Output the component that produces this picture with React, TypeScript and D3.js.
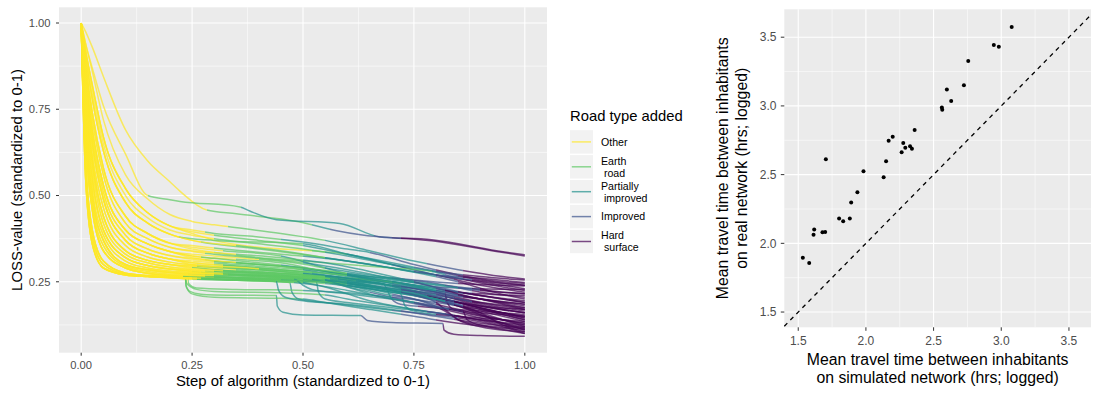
import React, { useRef, useEffect } from "react";
import * as d3 from "d3";

// Road types (legend order) and their viridis colours
const roadTypes = ["Other", "Earth road", "Partially improved", "Improved", "Hard surface"];
const roadLabels = [["Other"], ["Earth", " road"], ["Partially", " improved"], ["Improved"], ["Hard", " surface"]];
const roadColors = ["#FDE725", "#5DC863", "#21908C", "#3B528B", "#440154"];

// Left panel ticks
const stepTicks = [0, 0.25, 0.5, 0.75, 1];
const lossTicks = [0.25, 0.5, 0.75, 1];

// Early part of the LOSS curves: values read at these steps
const lossSteps = [0, 0.01, 0.025, 0.05, 0.1, 0.15, 0.2];
const lossFans = [
  [1, 0.55, 0.36, 0.29, 0.27, 0.265, 0.262],
  [1, 0.6, 0.4, 0.31, 0.275, 0.268, 0.264],
  [1, 0.66, 0.46, 0.34, 0.29, 0.275, 0.268],
  [1, 0.7, 0.5, 0.37, 0.3, 0.285, 0.277],
  [1, 0.74, 0.55, 0.4, 0.32, 0.297, 0.287],
  [1, 0.78, 0.6, 0.44, 0.34, 0.312, 0.3],
  [1, 0.82, 0.65, 0.49, 0.37, 0.333, 0.316],
  [1, 0.85, 0.69, 0.53, 0.4, 0.36, 0.338],
  [1, 0.88, 0.74, 0.58, 0.44, 0.39, 0.362],
  [1, 0.9, 0.78, 0.63, 0.48, 0.42, 0.388],
  [1, 0.92, 0.82, 0.67, 0.52, 0.45, 0.412],
  [1, 0.94, 0.86, 0.72, 0.56, 0.49, 0.445],
  [1, 0.975, 0.93, 0.845, 0.69, 0.6, 0.54],
  [1, 0.94, 0.87, 0.76, 0.62, 0.5, 0.488],
  [1, 0.58, 0.38, 0.3, 0.272, 0.266, 0.263],
  [1, 0.68, 0.48, 0.355, 0.295, 0.28, 0.272],
  [1, 0.72, 0.52, 0.385, 0.31, 0.29, 0.281],
  [1, 0.76, 0.58, 0.42, 0.33, 0.305, 0.293],
  [1, 0.8, 0.62, 0.465, 0.355, 0.322, 0.307],
  [1, 0.84, 0.67, 0.51, 0.385, 0.345, 0.326],
  [1, 0.87, 0.72, 0.56, 0.42, 0.375, 0.35],
  [1, 0.91, 0.8, 0.65, 0.5, 0.435, 0.4],
];

// Which early shape each curve follows
const curveFan = [
  12, 13, 11, 10, 10, 9, 9, 8, 8, 7, 7, 6, 6, 5, 5, 4, 4, 3, 3, 2, 0, 0, 1, 1, 2, 0, 1, 2, 3, 4, 5, 2, 1, 0, 3, 4, 6, 7, 8, 5, 9, 7, 10, 6,
  14, 15, 16, 17, 18, 19, 20, 21, 14, 15, 17, 19, 16, 18, 20, 14,
];

// Later part of each curve: [step, loss]
const curveTails = [
  [[0.225, 0.51], [0.283, 0.458], [0.35, 0.447], [0.49, 0.424], [0.576, 0.398], [0.63, 0.386], [0.79, 0.369], [0.936, 0.338], [1, 0.325]],
  [[0.223, 0.483], [0.358, 0.467], [0.38, 0.455], [0.44, 0.43], [0.583, 0.419], [0.673, 0.38], [0.79, 0.372], [0.936, 0.34], [1, 0.328]],
  [[0.25, 0.425], [0.3, 0.415], [0.33, 0.41], [0.45, 0.39], [0.55, 0.37], [0.65, 0.34], [0.75, 0.31], [0.85, 0.285], [0.95, 0.265], [1, 0.258]],
  [[0.25, 0.395], [0.3, 0.385], [0.4, 0.37], [0.5, 0.355], [0.6, 0.33], [0.7, 0.305], [0.8, 0.28], [0.9, 0.255], [1, 0.24]],
  [[0.25, 0.39], [0.3, 0.37], [0.4, 0.35], [0.52, 0.34], [0.6, 0.33], [0.7, 0.3], [0.8, 0.27], [0.9, 0.24], [1, 0.22]],
  [[0.25, 0.37], [0.27, 0.365], [0.4, 0.345], [0.55, 0.32], [0.7, 0.29], [0.85, 0.25], [0.93, 0.22], [1, 0.2]],
  [[0.22, 0.38], [0.3, 0.37], [0.5, 0.36], [0.6, 0.33], [0.7, 0.3], [0.8, 0.27], [0.9, 0.25], [1, 0.23]],
  [[0.25, 0.345], [0.3, 0.335], [0.4, 0.32], [0.5, 0.31], [0.6, 0.3], [0.7, 0.29], [0.79, 0.28], [0.85, 0.26], [0.95, 0.235], [1, 0.225]],
  [[0.25, 0.35], [0.32, 0.34], [0.45, 0.325], [0.55, 0.29], [0.65, 0.255], [0.75, 0.22], [0.85, 0.19], [0.95, 0.16], [1, 0.15]],
  [[0.25, 0.32], [0.3, 0.31], [0.4, 0.3], [0.5, 0.29], [0.6, 0.27], [0.7, 0.25], [0.8, 0.22], [0.9, 0.19], [1, 0.17]],
  [[0.25, 0.325], [0.35, 0.315], [0.45, 0.305], [0.55, 0.28], [0.65, 0.26], [0.75, 0.24], [0.85, 0.2], [0.95, 0.17], [1, 0.16]],
  [[0.25, 0.305], [0.3, 0.3], [0.4, 0.29], [0.5, 0.28], [0.6, 0.27], [0.7, 0.26], [0.8, 0.245], [0.9, 0.22], [1, 0.205]],
  [[0.25, 0.3], [0.35, 0.29], [0.45, 0.28], [0.55, 0.26], [0.65, 0.23], [0.75, 0.2], [0.85, 0.17], [0.95, 0.14], [1, 0.13]],
  [[0.25, 0.29], [0.3, 0.285], [0.4, 0.278], [0.5, 0.27], [0.6, 0.262], [0.7, 0.25], [0.8, 0.23], [0.9, 0.21], [1, 0.19]],
  [[0.25, 0.292], [0.35, 0.28], [0.45, 0.27], [0.55, 0.25], [0.65, 0.22], [0.75, 0.19], [0.85, 0.16], [0.95, 0.13], [1, 0.115]],
  [[0.25, 0.28], [0.3, 0.275], [0.4, 0.27], [0.5, 0.265], [0.6, 0.255], [0.7, 0.24], [0.8, 0.22], [0.9, 0.2], [1, 0.18]],
  [[0.25, 0.28], [0.3, 0.275], [0.4, 0.268], [0.5, 0.26], [0.6, 0.25], [0.68, 0.245], [0.7, 0.2], [0.72, 0.185], [0.8, 0.175], [0.9, 0.165], [1, 0.155]],
  [[0.25, 0.272], [0.35, 0.268], [0.45, 0.262], [0.55, 0.255], [0.65, 0.24], [0.75, 0.22], [0.85, 0.19], [0.95, 0.16], [1, 0.145]],
  [[0.25, 0.27], [0.3, 0.265], [0.5, 0.255], [0.6, 0.25], [0.7, 0.23], [0.8, 0.205], [0.9, 0.18], [1, 0.16]],
  [[0.25, 0.265], [0.35, 0.26], [0.5, 0.252], [0.6, 0.245], [0.7, 0.225], [0.8, 0.195], [0.9, 0.165], [1, 0.135]],
  [[0.235, 0.26], [0.236, 0.24], [0.245, 0.222], [0.27, 0.214], [0.3, 0.212], [0.44, 0.21], [0.442, 0.18], [0.455, 0.162], [0.5, 0.154], [0.63, 0.152], [0.645, 0.138], [0.7, 0.132], [0.815, 0.129], [0.818, 0.11], [0.84, 0.098], [0.9, 0.094], [1, 0.092]],
  [[0.235, 0.258], [0.237, 0.235], [0.25, 0.215], [0.3, 0.205], [0.45, 0.202], [0.5, 0.2], [0.55, 0.19], [0.65, 0.17], [0.75, 0.15], [0.85, 0.13], [0.95, 0.115], [1, 0.11]],
  [[0.235, 0.262], [0.238, 0.245], [0.26, 0.228], [0.3, 0.222], [0.45, 0.218], [0.55, 0.212], [0.6, 0.2], [0.7, 0.18], [0.8, 0.16], [0.9, 0.14], [1, 0.125]],
  [[0.25, 0.262], [0.3, 0.258], [0.4, 0.255], [0.5, 0.252], [0.53, 0.25], [0.535, 0.22], [0.55, 0.2], [0.6, 0.19], [0.7, 0.175], [0.8, 0.16], [0.9, 0.14], [1, 0.12]],
  [[0.25, 0.266], [0.35, 0.262], [0.45, 0.258], [0.55, 0.25], [0.6, 0.24], [0.7, 0.21], [0.75, 0.2], [0.82, 0.165], [0.85, 0.14], [0.9, 0.125], [1, 0.1]],
  [[0.25, 0.258], [0.35, 0.255], [0.45, 0.25], [0.47, 0.248], [0.475, 0.22], [0.49, 0.2], [0.55, 0.19], [0.65, 0.175], [0.75, 0.16], [0.85, 0.145], [0.95, 0.12], [1, 0.1]],
  [[0.25, 0.26], [0.4, 0.252], [0.55, 0.245], [0.65, 0.23], [0.75, 0.21], [0.85, 0.18], [0.9, 0.155], [0.95, 0.13], [1, 0.11]],
  [[0.25, 0.265], [0.4, 0.26], [0.5, 0.255], [0.6, 0.24], [0.7, 0.22], [0.72, 0.215], [0.73, 0.18], [0.75, 0.165], [0.85, 0.15], [0.95, 0.14], [1, 0.135]],
  [[0.25, 0.274], [0.35, 0.27], [0.45, 0.262], [0.55, 0.25], [0.62, 0.235], [0.7, 0.22], [0.8, 0.2], [0.9, 0.18], [1, 0.17]],
  [[0.25, 0.282], [0.4, 0.272], [0.5, 0.265], [0.6, 0.255], [0.7, 0.24], [0.8, 0.225], [0.9, 0.215], [1, 0.21]],
  [[0.25, 0.295], [0.35, 0.285], [0.45, 0.275], [0.55, 0.265], [0.65, 0.255], [0.72, 0.245], [0.8, 0.235], [0.9, 0.23], [1, 0.228]],
  [[0.23, 0.266], [0.3, 0.263], [0.45, 0.255], [0.6, 0.245], [0.65, 0.235], [0.75, 0.215], [0.85, 0.19], [0.95, 0.155], [1, 0.14]],
  [[0.24, 0.26], [0.242, 0.245], [0.26, 0.232], [0.35, 0.228], [0.5, 0.225], [0.6, 0.218], [0.7, 0.205], [0.8, 0.19], [0.9, 0.17], [1, 0.15]],
  [[0.25, 0.258], [0.3, 0.256], [0.45, 0.25], [0.5, 0.245], [0.6, 0.225], [0.7, 0.2], [0.8, 0.175], [0.86, 0.165], [0.87, 0.14], [0.9, 0.125], [1, 0.115]],
  [[0.25, 0.275], [0.4, 0.268], [0.55, 0.26], [0.7, 0.25], [0.75, 0.24], [0.85, 0.22], [0.95, 0.2], [1, 0.19]],
  [[0.25, 0.285], [0.3, 0.28], [0.4, 0.275], [0.5, 0.268], [0.6, 0.255], [0.7, 0.235], [0.8, 0.21], [0.9, 0.19], [1, 0.175]],
  [[0.25, 0.31], [0.35, 0.3], [0.45, 0.29], [0.55, 0.28], [0.65, 0.265], [0.75, 0.25], [0.85, 0.235], [0.95, 0.22], [1, 0.215]],
  [[0.25, 0.33], [0.3, 0.325], [0.4, 0.315], [0.48, 0.305], [0.55, 0.29], [0.65, 0.27], [0.75, 0.255], [0.85, 0.245], [0.95, 0.24], [1, 0.238]],
  [[0.25, 0.355], [0.32, 0.345], [0.45, 0.33], [0.6, 0.31], [0.7, 0.29], [0.8, 0.27], [0.9, 0.26], [1, 0.248]],
  [[0.25, 0.296], [0.35, 0.288], [0.5, 0.275], [0.6, 0.26], [0.7, 0.24], [0.8, 0.22], [0.82, 0.215], [0.825, 0.19], [0.84, 0.17], [0.9, 0.16], [1, 0.15]],
  [[0.25, 0.37], [0.35, 0.355], [0.45, 0.34], [0.55, 0.32], [0.65, 0.3], [0.75, 0.28], [0.85, 0.26], [0.95, 0.245], [1, 0.24]],
  [[0.25, 0.325], [0.3, 0.318], [0.4, 0.305], [0.5, 0.29], [0.6, 0.27], [0.7, 0.245], [0.8, 0.215], [0.9, 0.18], [1, 0.16]],
  [[0.25, 0.4], [0.3, 0.39], [0.4, 0.38], [0.5, 0.365], [0.6, 0.345], [0.65, 0.335], [0.75, 0.3], [0.85, 0.27], [0.95, 0.25], [1, 0.245]],
  [[0.25, 0.305], [0.35, 0.296], [0.45, 0.285], [0.55, 0.27], [0.65, 0.25], [0.75, 0.225], [0.85, 0.19], [0.95, 0.16], [1, 0.145]],
  [[0.25, 0.26], [0.35, 0.256], [0.45, 0.252], [0.5, 0.248], [0.55, 0.235], [0.6, 0.215], [0.65, 0.195], [0.75, 0.17], [0.85, 0.15], [0.95, 0.125], [1, 0.112]],
  [[0.25, 0.268], [0.4, 0.262], [0.48, 0.258], [0.5, 0.24], [0.52, 0.228], [0.6, 0.215], [0.7, 0.2], [0.8, 0.18], [0.9, 0.15], [1, 0.13]],
  [[0.25, 0.276], [0.35, 0.272], [0.45, 0.266], [0.55, 0.255], [0.65, 0.235], [0.75, 0.215], [0.85, 0.18], [0.95, 0.14], [1, 0.12]],
  [[0.25, 0.285], [0.35, 0.278], [0.45, 0.27], [0.55, 0.26], [0.6, 0.25], [0.7, 0.225], [0.8, 0.2], [0.9, 0.17], [1, 0.14]],
  [[0.25, 0.298], [0.35, 0.29], [0.45, 0.28], [0.55, 0.268], [0.65, 0.25], [0.75, 0.225], [0.85, 0.2], [0.95, 0.175], [1, 0.165]],
  [[0.25, 0.315], [0.35, 0.305], [0.45, 0.295], [0.5, 0.285], [0.6, 0.265], [0.7, 0.245], [0.8, 0.225], [0.9, 0.2], [1, 0.185]],
  [[0.25, 0.338], [0.3, 0.33], [0.4, 0.318], [0.5, 0.305], [0.6, 0.285], [0.7, 0.26], [0.8, 0.235], [0.9, 0.21], [1, 0.195]],
  [[0.25, 0.385], [0.3, 0.375], [0.4, 0.36], [0.5, 0.345], [0.6, 0.325], [0.7, 0.3], [0.8, 0.28], [0.9, 0.265], [1, 0.255]],
  [[0.25, 0.26], [0.4, 0.256], [0.55, 0.25], [0.6, 0.245], [0.7, 0.225], [0.8, 0.2], [0.9, 0.16], [0.95, 0.125], [1, 0.105]],
  [[0.25, 0.27], [0.35, 0.267], [0.45, 0.262], [0.55, 0.255], [0.63, 0.24], [0.7, 0.23], [0.8, 0.215], [0.9, 0.2], [1, 0.185]],
  [[0.25, 0.288], [0.32, 0.282], [0.45, 0.275], [0.55, 0.265], [0.65, 0.24], [0.72, 0.22], [0.8, 0.19], [0.82, 0.17], [0.85, 0.14], [0.9, 0.12], [1, 0.105]],
  [[0.25, 0.318], [0.3, 0.312], [0.4, 0.3], [0.5, 0.29], [0.6, 0.275], [0.7, 0.255], [0.8, 0.24], [0.9, 0.225], [1, 0.215]],
  [[0.25, 0.278], [0.3, 0.274], [0.4, 0.268], [0.5, 0.262], [0.55, 0.255], [0.6, 0.235], [0.65, 0.215], [0.75, 0.19], [0.85, 0.165], [0.95, 0.14], [1, 0.125]],
  [[0.25, 0.3], [0.4, 0.288], [0.55, 0.275], [0.6, 0.268], [0.7, 0.25], [0.8, 0.225], [0.9, 0.2], [1, 0.175]],
  [[0.25, 0.34], [0.35, 0.33], [0.45, 0.32], [0.55, 0.305], [0.65, 0.28], [0.75, 0.25], [0.85, 0.215], [0.95, 0.185], [1, 0.17]],
  [[0.25, 0.261], [0.3, 0.258], [0.42, 0.254], [0.44, 0.25], [0.445, 0.225], [0.46, 0.205], [0.5, 0.195], [0.6, 0.185], [0.7, 0.17], [0.8, 0.15], [0.9, 0.13], [1, 0.118]],
];

// Step at which each curve switches to Earth, Partially improved, Improved, Hard surface
const typeBreaks = [
  [0.283, 0.52, 0.56, 0.7], [0.15, 0.36, 0.66, 0.72], [0.33, 0.55, 0.78, 0.86], [0.3, 0.5, 0.75, 0.85],
  [0.52, 0.6, 0.8, 0.84], [0.27, 0.55, 0.8, 0.85], [0.22, 0.5, 0.7, 0.8], [0.3, 0.79, 0.82, 0.86],
  [0.32, 0.45, 0.75, 0.82], [0.28, 0.5, 0.7, 0.8], [0.35, 0.55, 0.72, 0.84], [0.3, 0.6, 0.75, 0.88],
  [0.26, 0.5, 0.7, 0.8], [0.3, 0.65, 0.8, 0.88], [0.25, 0.45, 0.65, 0.75], [0.25, 0.55, 0.78, 0.85],
  [0.27, 0.52, 0.7, 0.76], [0.24, 0.47, 0.66, 0.78], [0.3, 0.6, 0.82, 0.86], [0.23, 0.5, 0.72, 0.8],
  [0.235, 0.44, 0.63, 0.815], [0.235, 0.5, 0.72, 0.8], [0.235, 0.55, 0.75, 0.85], [0.26, 0.53, 0.75, 0.82],
  [0.27, 0.55, 0.7, 0.8], [0.25, 0.47, 0.7, 0.85], [0.25, 0.55, 0.75, 0.85], [0.3, 0.6, 0.8, 0.8],
  [0.28, 0.5, 0.8, 0.84], [0.32, 0.62, 0.82, 0.88], [0.35, 0.72, 0.8, 0.9], [0.23, 0.45, 0.7, 0.78],
  [0.24, 0.5, 0.7, 0.84], [0.26, 0.48, 0.66, 0.86], [0.33, 0.7, 0.8, 0.86], [0.28, 0.58, 0.72, 0.84],
  [0.3, 0.6, 0.82, 0.88], [0.4, 0.55, 0.7, 0.85], [0.3, 0.5, 0.8, 0.86], [0.26, 0.5, 0.72, 0.82],
  [0.35, 0.55, 0.75, 0.88], [0.27, 0.45, 0.7, 0.8], [0.28, 0.45, 0.65, 0.8], [0.32, 0.52, 0.7, 0.84],
  [0.25, 0.5, 0.78, 0.84], [0.28, 0.48, 0.76, 0.86], [0.3, 0.55, 0.8, 0.84], [0.3, 0.56, 0.82, 0.86],
  [0.32, 0.5, 0.8, 0.88], [0.3, 0.5, 0.82, 0.88], [0.28, 0.5, 0.75, 0.85], [0.3, 0.55, 0.8, 0.86],
  [0.26, 0.6, 0.82, 0.86], [0.3, 0.52, 0.72, 0.86], [0.32, 0.55, 0.72, 0.8], [0.35, 0.6, 0.85, 0.9],
  [0.32, 0.55, 0.75, 0.83], [0.4, 0.6, 0.8, 0.85], [0.35, 0.5, 0.75, 0.82], [0.27, 0.44, 0.72, 0.84],
];

// Right panel: mean travel time (hrs; logged)
const simulatedTime = [1.534, 1.581, 1.613, 1.618, 1.679, 1.699, 1.704, 1.802, 1.832, 1.881, 1.891, 1.937, 1.982, 2.131, 2.149, 2.168, 2.198, 2.264, 2.276, 2.291, 2.326, 2.34, 2.36, 2.561, 2.564, 2.598, 2.63, 2.724, 2.756, 2.945, 2.982, 3.077];
const realTime = [1.895, 1.856, 2.062, 2.1, 2.081, 2.083, 2.611, 2.18, 2.161, 2.18, 2.297, 2.372, 2.524, 2.481, 2.597, 2.747, 2.776, 2.662, 2.73, 2.696, 2.706, 2.689, 2.824, 2.989, 2.972, 3.12, 3.035, 3.151, 3.326, 3.444, 3.43, 3.575];
const timeTicks = [1.5, 2, 2.5, 3, 3.5];

const FONT = "'Liberation Sans', Arial, Helvetica, sans-serif";

const App: React.FC = () => {
  const svgRef = useRef<SVGSVGElement | null>(null);

  useEffect(() => {
    if (!svgRef.current) return;
    const svg = d3.select(svgRef.current);
    svg.selectAll("*").remove();
    const defs = svg.append("defs");

    // ---------- Left panel ----------
    const lp = { left: 59, right: 547, top: 7.3, bottom: 352.7 };
    const xStep = d3.scaleLinear().domain([-0.05, 1.05]).range([lp.left, lp.right]);
    const yLoss = d3.scaleLinear().domain([0.0445, 1.0455]).range([lp.bottom, lp.top]);

    const left = svg.append("g").attr("class", "loss-panel");
    left
      .append("rect")
      .attr("x", lp.left)
      .attr("y", lp.top)
      .attr("width", lp.right - lp.left)
      .attr("height", lp.bottom - lp.top)
      .attr("fill", "#EBEBEB");

    const minorStep = stepTicks.slice(1).map((t, i) => (t + stepTicks[i]) / 2);
    const minorLoss = [0.125, ...lossTicks.slice(1).map((t, i) => (t + lossTicks[i]) / 2)];
    const grid = left.append("g").attr("class", "grid").attr("stroke", "#fff");
    minorStep.forEach((t) =>
      grid.append("line").attr("x1", xStep(t)).attr("x2", xStep(t)).attr("y1", lp.top).attr("y2", lp.bottom).attr("stroke-width", 0.55)
    );
    minorLoss.forEach((t) =>
      grid.append("line").attr("x1", lp.left).attr("x2", lp.right).attr("y1", yLoss(t)).attr("y2", yLoss(t)).attr("stroke-width", 0.55)
    );
    stepTicks.forEach((t) =>
      grid.append("line").attr("x1", xStep(t)).attr("x2", xStep(t)).attr("y1", lp.top).attr("y2", lp.bottom).attr("stroke-width", 1.1)
    );
    lossTicks.forEach((t) =>
      grid.append("line").attr("x1", lp.left).attr("x2", lp.right).attr("y1", yLoss(t)).attr("y2", yLoss(t)).attr("stroke-width", 1.1)
    );

    // Curves, coloured by road type via hard-stop gradients along x
    const line = d3
      .line<number[]>()
      .x((d) => xStep(d[0]))
      .y((d) => yLoss(d[1]))
      .curve(d3.curveMonotoneX);

    const curves = left.append("g").attr("class", "curves");
    curveFan.forEach((f, i) => {
      const pts = lossSteps.map((s, j) => [s, lossFans[f][j]]).concat(curveTails[i]);
      const grad = defs
        .append("linearGradient")
        .attr("id", `road-${i}`)
        .attr("gradientUnits", "userSpaceOnUse")
        .attr("x1", xStep(0))
        .attr("x2", xStep(1))
        .attr("y1", 0)
        .attr("y2", 0);
      const b = [0, ...typeBreaks[i], 1];
      roadColors.forEach((c, k) => {
        grad.append("stop").attr("offset", b[k]).attr("stop-color", c);
        grad.append("stop").attr("offset", b[k + 1]).attr("stop-color", c);
      });
      curves
        .append("path")
        .attr("d", line(pts))
        .attr("fill", "none")
        .attr("stroke", `url(#road-${i})`)
        .attr("stroke-width", 1.5)
        .attr("stroke-opacity", 0.7);
    });

    // Left axes
    const laxes = left.append("g").attr("class", "axes").style("font-family", FONT);
    stepTicks.forEach((t) => {
      laxes.append("line").attr("x1", xStep(t)).attr("x2", xStep(t)).attr("y1", lp.bottom).attr("y2", lp.bottom + 3).attr("stroke", "#333");
      laxes
        .append("text")
        .attr("x", xStep(t))
        .attr("y", 368.7)
        .attr("text-anchor", "middle")
        .attr("font-size", 11.2)
        .attr("fill", "#4D4D4D")
        .text(d3.format(".2f")(t));
    });
    lossTicks.forEach((t) => {
      laxes.append("line").attr("x1", lp.left - 3).attr("x2", lp.left).attr("y1", yLoss(t)).attr("y2", yLoss(t)).attr("stroke", "#333");
      laxes
        .append("text")
        .attr("x", 50.5)
        .attr("y", yLoss(t))
        .attr("dy", "0.35em")
        .attr("text-anchor", "end")
        .attr("font-size", 11.2)
        .attr("fill", "#4D4D4D")
        .text(d3.format(".2f")(t));
    });
    laxes
      .append("text")
      .attr("x", (lp.left + lp.right) / 2)
      .attr("y", 385.7)
      .attr("text-anchor", "middle")
      .attr("font-size", 14.9)
      .attr("fill", "#000")
      .text("Step of algorithm (standardized to 0-1)");
    laxes
      .append("text")
      .attr("transform", `translate(22.3,${(lp.top + lp.bottom) / 2}) rotate(-90)`)
      .attr("text-anchor", "middle")
      .attr("font-size", 14.9)
      .attr("fill", "#000")
      .text("LOSS-value (standardized to 0-1)");

    // Legend
    const legend = svg.append("g").attr("class", "legend").style("font-family", FONT);
    legend.append("text").attr("x", 570).attr("y", 120.5).attr("font-size", 14.8).text("Road type added");
    const keyTop = d3.scaleBand().domain(roadTypes).range([130.2, 253.2]).paddingInner(0.06);
    roadTypes.forEach((r, k) => {
      const y0 = keyTop(r)!;
      const cy = y0 + keyTop.bandwidth() / 2;
      legend.append("rect").attr("x", 570).attr("y", y0).attr("width", 23).attr("height", keyTop.bandwidth()).attr("fill", "#F2F2F2");
      legend
        .append("line")
        .attr("x1", 571.8)
        .attr("x2", 591)
        .attr("y1", cy)
        .attr("y2", cy)
        .attr("stroke", roadColors[k])
        .attr("stroke-width", 1.5)
        .attr("stroke-opacity", 0.7);
      const lab = roadLabels[k];
      const txt = legend.append("text").attr("font-size", 10.6).attr("fill", "#000").style("white-space", "pre");
      if (lab.length === 1) {
        txt.attr("x", 601).attr("y", cy + 3.9).text(lab[0]);
      } else {
        txt.append("tspan").attr("x", 601).attr("y", cy - 2.2).text(lab[0]);
        txt.append("tspan").attr("x", 601).attr("y", cy + 10).text(lab[1]);
      }
    });

    // ---------- Right panel ----------
    const rp = { left: 784.3, right: 1091, top: 9.3, bottom: 327.3 };
    const xSim = d3.scaleLinear().domain([1.397, 3.663]).range([rp.left, rp.right]);
    const yReal = d3.scaleLinear().domain([1.389, 3.703]).range([rp.bottom, rp.top]);

    const right = svg.append("g").attr("class", "time-panel");
    right
      .append("rect")
      .attr("x", rp.left)
      .attr("y", rp.top)
      .attr("width", rp.right - rp.left)
      .attr("height", rp.bottom - rp.top)
      .attr("fill", "#EBEBEB");
    const minorTime = timeTicks.slice(1).map((t, i) => (t + timeTicks[i]) / 2);
    const rgrid = right.append("g").attr("stroke", "#fff");
    minorTime.forEach((t) => {
      rgrid.append("line").attr("x1", xSim(t)).attr("x2", xSim(t)).attr("y1", rp.top).attr("y2", rp.bottom).attr("stroke-width", 0.55);
      rgrid.append("line").attr("x1", rp.left).attr("x2", rp.right).attr("y1", yReal(t)).attr("y2", yReal(t)).attr("stroke-width", 0.55);
    });
    timeTicks.forEach((t) => {
      rgrid.append("line").attr("x1", xSim(t)).attr("x2", xSim(t)).attr("y1", rp.top).attr("y2", rp.bottom).attr("stroke-width", 1.1);
      rgrid.append("line").attr("x1", rp.left).attr("x2", rp.right).attr("y1", yReal(t)).attr("y2", yReal(t)).attr("stroke-width", 1.1);
    });

    // 1:1 reference line
    const diag = xSim.domain();
    right
      .append("line")
      .attr("x1", xSim(diag[0]))
      .attr("y1", yReal(diag[0]))
      .attr("x2", xSim(diag[1]))
      .attr("y2", yReal(diag[1]))
      .attr("stroke", "#000")
      .attr("stroke-width", 1.3)
      .attr("stroke-dasharray", "4.3,4.3");

    right
      .append("g")
      .selectAll("circle")
      .data(simulatedTime)
      .enter()
      .append("circle")
      .attr("cx", (d) => xSim(d))
      .attr("cy", (_d, i) => yReal(realTime[i]))
      .attr("r", 2)
      .attr("fill", "#000");

    const raxes = right.append("g").style("font-family", FONT);
    timeTicks.forEach((t) => {
      raxes.append("line").attr("x1", xSim(t)).attr("x2", xSim(t)).attr("y1", rp.bottom).attr("y2", rp.bottom + 3.5).attr("stroke", "#333");
      raxes
        .append("text")
        .attr("x", xSim(t))
        .attr("y", 345.3)
        .attr("text-anchor", "middle")
        .attr("font-size", 12)
        .attr("fill", "#4D4D4D")
        .text(d3.format(".1f")(t));
      raxes.append("line").attr("x1", rp.left - 3.5).attr("x2", rp.left).attr("y1", yReal(t)).attr("y2", yReal(t)).attr("stroke", "#333");
      raxes
        .append("text")
        .attr("x", 776.5)
        .attr("y", yReal(t))
        .attr("dy", "0.35em")
        .attr("text-anchor", "end")
        .attr("font-size", 12)
        .attr("fill", "#4D4D4D")
        .text(d3.format(".1f")(t));
    });
    const cx = (rp.left + rp.right) / 2;
    const cy = (rp.top + rp.bottom) / 2;
    const xt = raxes.append("text").attr("text-anchor", "middle").attr("font-size", 15.8).attr("fill", "#000");
    xt.append("tspan").attr("x", cx).attr("y", 365).text("Mean travel time between inhabitants");
    xt.append("tspan").attr("x", cx).attr("y", 383.3).text("on simulated network (hrs; logged)");
    const yt = raxes
      .append("text")
      .attr("transform", `translate(0,${cy}) rotate(-90)`)
      .attr("text-anchor", "middle")
      .attr("font-size", 15.8)
      .attr("fill", "#000");
    yt.append("tspan").attr("x", 0).attr("y", 728.4).text("Mean travel time between inhabitants");
    yt.append("tspan").attr("x", 0).attr("y", 746.7).text("on real network (hrs; logged)");

    return () => {
      svg.selectAll("*").remove();
    };
  }, []);

  return (
    <svg
      ref={svgRef}
      width={1094}
      height={394}
      style={{ position: "absolute", left: 0, top: 0, background: "#fff" }}
    />
  );
};

export default App;
